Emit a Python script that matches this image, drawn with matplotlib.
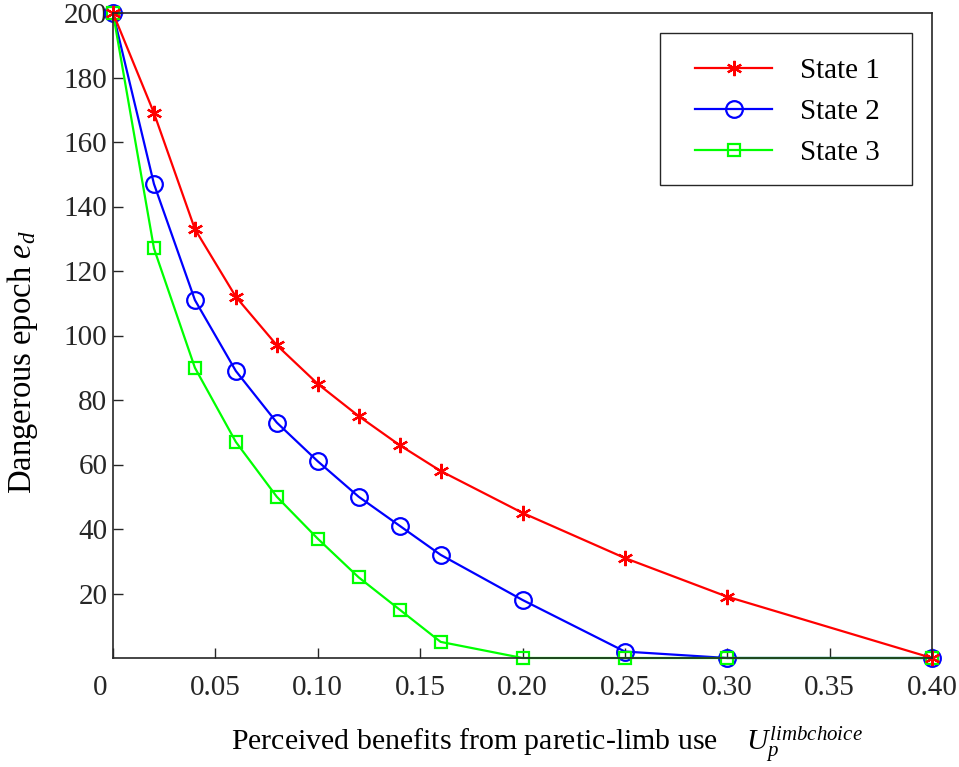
import numpy as np
import matplotlib
matplotlib.use('Agg')
import matplotlib.pyplot as plt
import matplotlib.transforms as mtransforms
from matplotlib.patches import Rectangle

plt.rcParams['font.family'] = ['Liberation Serif', 'DejaVu Serif']
plt.rcParams['mathtext.fontset'] = 'custom'
plt.rcParams['mathtext.rm'] = 'Liberation Serif'
plt.rcParams['mathtext.it'] = 'Liberation Serif:italic'

# benefit values on the x axis
benefit = [0, 0.02, 0.04, 0.06, 0.08, 0.10, 0.12, 0.14, 0.16, 0.20, 0.25, 0.30, 0.40]

# dangerous epoch for each state
state1 = [200, 169, 133, 112, 97, 85, 75, 66, 58, 45, 31, 19, 0]
state2 = [200, 147, 111, 89, 73, 61, 50, 41, 32, 18, 2, 0, 0]
state3 = [200, 127, 90, 67, 50, 37, 25, 15, 5, 0, 0, 0, 0]

xticks = [0, 0.05, 0.10, 0.15, 0.20, 0.25, 0.30, 0.35, 0.40]
xticklabels = ['0', '0.05', '0.10', '0.15', '0.20', '0.25', '0.30', '0.35', '0.40']
yticks = [20, 40, 60, 80, 100, 120, 140, 160, 180, 200]

W, H = 959, 767
fig = plt.figure(figsize=(W/100, H/100), dpi=100)
ax = fig.add_axes([113/W, 1 - 658/H, (932 - 113)/W, (658 - 13)/H])

asterisk = (6, 2, 0)
l2, = ax.plot(benefit, state2, color=(0, 0, 1), lw=1.6, marker='o', ms=12,
              mfc='none', mew=1.6, label='State 2', clip_on=False)
l3, = ax.plot(benefit, state3, color=(0, 1, 0), lw=1.6, marker='s', ms=8.5,
              mfc='none', mew=1.6, label='State 3', clip_on=False)
l1, = ax.plot(benefit, state1, color=(1, 0, 0), lw=1.6, marker=asterisk, ms=11,
              mew=1.6, label='State 1', clip_on=False)

ax.set_xlim(0, 0.40)
ax.set_ylim(0, 200)
ax.set_xticks(xticks)
ax.set_xticklabels(xticklabels)
ax.set_yticks(yticks)
ax.tick_params(direction='in', length=7, width=1, colors='#262626',
               labelsize=21, pad=12)
ax.tick_params(axis='y', pad=4)
# the "0" label sits left of the tick in the original
lab0 = ax.get_xticklabels()[0]
lab0.set_transform(lab0.get_transform() + mtransforms.ScaledTranslation(-13/100, 0, fig.dpi_scale_trans))

for s in ax.spines.values():
    s.set_color('#262626')
    s.set_linewidth(1.2)

ax.set_xlabel('Perceived benefits from paretic-limb use $\\quad U_p^{limbchoice}$', fontsize=21.5)
ax.xaxis.set_label_coords((547 - 113)/819, -0.103)
ax.set_ylabel('Dangerous epoch $e_d$', fontsize=23.5)
ax.yaxis.set_label_coords(-0.089, (658 - 362)/645)

# legend box drawn by hand, entries without frame
ax.add_patch(Rectangle((660/W, 1 - 185/H), 252/W, 152/H, transform=fig.transFigure,
                       facecolor='white', edgecolor='#262626', lw=1.0, zorder=5, clip_on=False))
leg = ax.legend(handles=[l1, l2, l3], loc='upper left', bbox_to_anchor=(695/W, 1 - 58/H),
                bbox_transform=fig.transFigure, fontsize=21, frameon=False,
                handlelength=2.65, handletextpad=0.95, labelspacing=0.49,
                borderpad=0, borderaxespad=0)
leg.set_zorder(6)

fig.savefig('out.png', dpi=100)
